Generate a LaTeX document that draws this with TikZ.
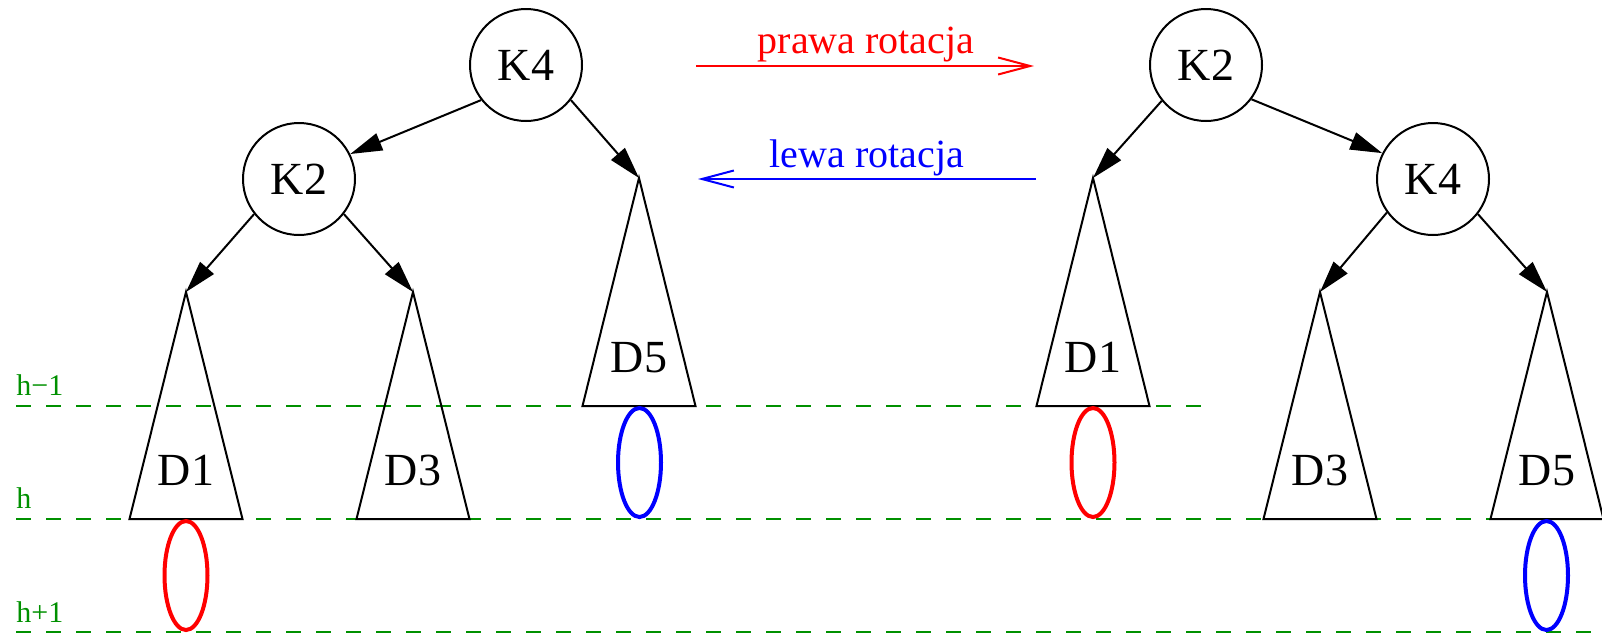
\documentclass[tikz,border=0pt]{standalone}
\usepackage{fontspec}
\setmainfont{Liberation Serif}
\usetikzlibrary{arrows.meta}
\definecolor{xgreen}{RGB}{0,144,0}
\begin{document}
\begin{tikzpicture}[x=0.5pt,y=-0.5pt,
  knode/.style={circle,draw,line width=1pt,minimum size=56pt,inner sep=0pt,font=\fontsize{23}{27}\selectfont},
  tlabel/.style={anchor=base,inner sep=0pt,font=\fontsize{23}{27}\selectfont},
  tree/.style={line width=1pt,line join=miter},
  edge/.style={line width=1pt,-{Triangle[length=16pt,width=9pt]}},
  level/.style={xgreen,line width=1pt,dash pattern=on 7.5pt off 7.5pt},
  hlabel/.style={xgreen,anchor=base west,inner sep=0pt,font=\fontsize{15}{18}\selectfont},
  rot/.style={line width=1pt,-{Straight Barb[length=16pt,width=8.5pt]}},
  rotlabel/.style={anchor=base,inner sep=0pt,font=\fontsize{20}{24}\selectfont},
  hole/.style={line width=2pt}
]
\useasboundingbox (0,0) rectangle (1602,633);

% level lines
\coordinate (hm1s) at (16,406);
\coordinate (hm1e) at (1209,406);
\coordinate (h0s) at (16,519);
\coordinate (h0e) at (1602,519);
\coordinate (hp1s) at (16,632);
\coordinate (hp1e) at (1602,632);
\draw[level] (hm1s) -- (hm1e);
\draw[level] (h0s) -- (h0e);
\draw[level] (hp1s) -- (hp1e);
\node[hlabel] (lhm1) at (16,395) {h−1};
\node[hlabel] (lh0) at (16,508) {h};
\node[hlabel] (lhp1) at (16,622) {h+1};

% rotation arrows
\coordinate (pr1) at (696,66);
\coordinate (pr2) at (1034,66);
\draw[rot,red] (pr1) -- (pr2);
\node[rotlabel,red] (prawa) at (866,53) {prawa rotacja};
\coordinate (lw1) at (1036,179);
\coordinate (lw2) at (698,179);
\draw[rot,blue] (lw1) -- (lw2);
\node[rotlabel,blue] (lewa) at (867,167) {lewa rotacja};

% ---------- left tree ----------
\node[knode] (LK4) at (526,65) {K4};
\node[knode] (LK2) at (299,179) {K2};
\coordinate (LD1) at (186,292);
\coordinate (LD3) at (413,292);
\coordinate (LD5) at (639,178);
\draw[tree] (LD1) -- ++(-56.5,227) -- ++(113,0) -- cycle;
\draw[tree] (LD3) -- ++(-56.5,227) -- ++(113,0) -- cycle;
\draw[tree] (LD5) -- ++(-56.5,228) -- ++(113,0) -- cycle;
\node[tlabel] (LD1l) at (186,485) {D1};
\node[tlabel] (LD3l) at (413,485) {D3};
\node[tlabel] (LD5l) at (639,372) {D5};
\draw[edge] (LK4.218) -- (LK2.26);
\draw[edge] (LK4.322) -- (LD5);
\draw[edge] (LK2.218) -- (LD1);
\draw[edge] (LK2.322) -- (LD3);
\draw[hole,blue] (639.5,462.5) ellipse [x radius=10.75pt, y radius=27.25pt];
\draw[hole,red] (186,575.5) ellipse [x radius=10.75pt, y radius=27.25pt];

% ---------- right tree ----------
\node[knode] (RK2) at (1206,65) {K2};
\node[knode] (RK4) at (1433,179) {K4};
\coordinate (RD1) at (1093,178);
\coordinate (RD3) at (1320,292);
\coordinate (RD5) at (1547,292);
\draw[tree] (RD1) -- ++(-56.5,228) -- ++(113,0) -- cycle;
\draw[tree] (RD3) -- ++(-56.5,227) -- ++(113,0) -- cycle;
\draw[tree] (RD5) -- ++(-56.5,227) -- ++(113,0) -- cycle;
\node[tlabel] (RD1l) at (1093,372) {D1};
\node[tlabel] (RD3l) at (1320,485) {D3};
\node[tlabel] (RD5l) at (1547,485) {D5};
\draw[edge] (RK2.323) -- (RK4.153);
\draw[edge] (RK2.219) -- (RD1);
\draw[edge] (RK4.216) -- (RD3);
\draw[edge] (RK4.322) -- (RD5);
\draw[hole,red] (1093,462.5) ellipse [x radius=10.75pt, y radius=27.25pt];
\draw[hole,blue] (1546.5,575.5) ellipse [x radius=10.75pt, y radius=27.25pt];
\end{tikzpicture}
\end{document}
